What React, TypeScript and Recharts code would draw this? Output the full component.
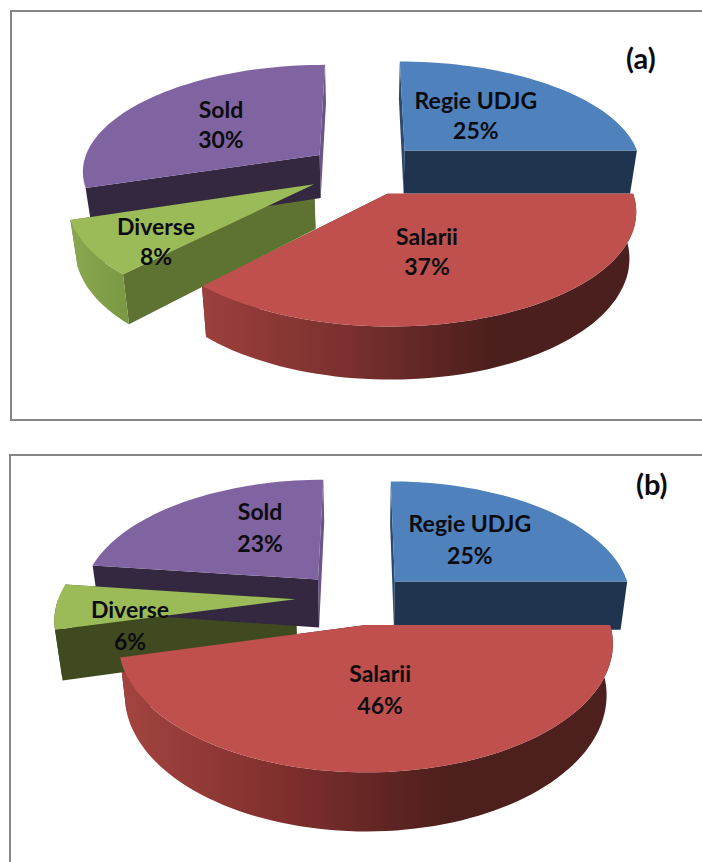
import { PieChart, Pie } from 'recharts';

const categories = ['Regie UDJG', 'Salarii', 'Diverse', 'Sold'];
const valuesA = [25, 37, 8, 30];
const valuesB = [25, 46, 6, 23];

const topColors: Record<string, string> = {
    'Regie UDJG': '#4f81bd',
    Salarii: '#c0504d',
    Diverse: '#9bbb59',
    Sold: '#8064a2',
};

const sideColors: Record<string, string> = {
    'Regie UDJG': '#2c4a70',
    Salarii: '#4d1f1e',
    Diverse: '#5e7232',
    Sold: '#6a5488',
};

// perspective of the fake 3D disc, slices and labels are in disc units (radius = 1)
interface View {
    id: string;
    k: number;
    p: number;
    depth: number;
    lineGap: number;
    explode: Record<string, number[]>;
    labelAt: Record<string, number[]>;
    cutFace: Record<string, string>;
    rim: Record<string, string[]>;
}

const viewA: View = {
    id: 'a',
    k: 0.447,
    p: 0.14,
    depth: 44,
    lineGap: 30,
    explode: {
        'Regie UDJG': [0.175, 0.177],
        Salarii: [0.095, -0.226],
        Diverse: [-0.205, -0.14],
        Sold: [-0.19, 0.135],
    },
    labelAt: {
        'Regie UDJG': [0.506, 0.546],
        Salarii: [0.239, -0.695],
        Diverse: [-0.798, -0.618],
        Sold: [-0.639, 0.45],
    },
    cutFace: { 'Regie UDJG': '#1f344f', Salarii: '#4d1f1e', Diverse: '#5e7232', Sold: '#33283f' },
    rim: {
        'Regie UDJG': [],
        Salarii: ['#9c403c', '#7a302e', '#4b1f1d', '#4b1f1d'],
        Diverse: ['#8aa84e', '#7a9743'],
        Sold: [],
    },
};

const viewB: View = {
    id: 'b',
    k: 0.5,
    p: 0.14,
    depth: 49,
    lineGap: 32,
    explode: {
        'Regie UDJG': [0.141, 0.141],
        Salarii: [0.015, -0.22],
        Diverse: [-0.28, -0.01],
        Sold: [-0.19, 0.16],
    },
    labelAt: {
        'Regie UDJG': [0.49, 0.545],
        Salarii: [0.069, -0.686],
        Diverse: [-0.95, -0.209],
        Sold: [-0.47, 0.664],
    },
    cutFace: { 'Regie UDJG': '#1f344f', Salarii: '#4d1f1e', Diverse: '#3f4a20', Sold: '#33283f' },
    rim: {
        'Regie UDJG': [],
        Salarii: ['#a4443f', '#7f2f2d', '#4d1f1d', '#4d1f1d'],
        Diverse: ['#3f4a20', '#3f4a20'],
        Sold: [],
    },
};

const RAD = Math.PI / 180;

function project(view: View, cx: number, cy: number, r: number, u: number, v: number, drop = 0) {
    const w = 1 + view.p * v;
    const shrink = 1 - (0.025 * drop) / view.depth;
    return [cx + ((r * u) / w) * shrink, cy + (-r * view.k * v + drop) / w];
}

function projector(view: View, cx: number, cy: number, r: number, name: string) {
    const [ou, ov] = view.explode[name];
    // f is the distance from the slice tip, in radii
    return (angle: number, f: number, drop = 0) =>
        project(view, cx, cy, r, ou + f * Math.cos(angle * RAD), ov + f * Math.sin(angle * RAD), drop);
}

const toPath = (pts: number[][]) =>
    'M' + pts.map(q => `${q[0].toFixed(1)},${q[1].toFixed(1)}`).join('L') + 'Z';

function arcAngles(from: number, to: number) {
    const out: number[] = [];
    const n = Math.max(2, Math.ceil(Math.abs(to - from) / 2));
    for (let i = 0; i <= n; i++) out.push(from + ((to - from) * i) / n);
    return out;
}

function WallShape(view: View) {
    return (props: any) => {
        const { cx, cy, outerRadius, startAngle, endAngle, payload } = props;
        const name = payload.name;
        const at = projector(view, cx, cy, outerRadius, name);
        const d = view.depth;
        const face = (angle: number) =>
            toPath([at(angle, 0), at(angle, 1), at(angle, 1, d), at(angle, 0, d)]);
        const faceFill = (angle: number) =>
            Math.sin(angle * RAD) > 0.95 ? sideColors[name] : view.cutFace[name];

        // far cut face first, the one nearer the viewer goes over it
        const faces = [startAngle, endAngle].sort((x, y) => Math.sin(y * RAD) - Math.sin(x * RAD));

        // only the front half of the rim can be seen
        const a0 = Math.min(startAngle, 0);
        const a1 = Math.max(endAngle, -180);
        const gid = `rim-${view.id}-${categories.indexOf(name)}`;
        const stops = view.rim[name];
        let rim: number[][] = [];
        if (a0 > a1 && stops.length > 0) {
            const angles = arcAngles(a0, a1);
            rim = angles.map(a => at(a, 1)).concat(angles.slice().reverse().map(a => at(a, 1, d)));
        }
        const xs = rim.map(q => q[0]);
        return (
            <g>
                <path d={face(faces[0])} fill={faceFill(faces[0])} />
                <path d={face(faces[1])} fill={faceFill(faces[1])} />
                {rim.length > 0 && (
                    <>
                        <linearGradient
                            id={gid}
                            gradientUnits="userSpaceOnUse"
                            x1={Math.min(...xs)}
                            x2={Math.max(...xs)}
                            y1={0}
                            y2={0}
                        >
                            {stops.map((c, i) => (
                                <stop key={i} offset={i / (stops.length - 1)} stopColor={c} />
                            ))}
                        </linearGradient>
                        <path d={toPath(rim)} fill={`url(#${gid})`} />
                    </>
                )}
            </g>
        );
    };
}

function TopShape(view: View) {
    return (props: any) => {
        const { cx, cy, outerRadius, startAngle, endAngle, payload } = props;
        const at = projector(view, cx, cy, outerRadius, payload.name);
        const pts = [at(startAngle, 0), ...arcAngles(startAngle, endAngle).map(a => at(a, 1))];
        return <path d={toPath(pts)} fill={topColors[payload.name]} />;
    };
}

function SliceLabel(view: View) {
    return (props: any) => {
        const { cx, cy, outerRadius, name, value } = props;
        const [u, v] = view.labelAt[name];
        const [x, y] = project(view, cx, cy, outerRadius, u, v);
        return (
            <text
                x={x}
                y={y}
                textAnchor="middle"
                fontFamily="Lato, sans-serif"
                fontWeight={700}
                fontSize={23}
                fill="#0c0c10"
            >
                <tspan x={x} dy={-6}>{name}</tspan>
                <tspan x={x} dy={view.lineGap}>{value}%</tspan>
            </text>
        );
    };
}

interface Pie3DProps {
    values: number[];
    view: View;
    top: number;
    height: number;
    cx: number;
    cy: number;
    radius: number;
}

function Pie3D({ values, view, top, height, cx, cy, radius }: Pie3DProps) {
    const data = categories.map((name, i) => ({ name, value: values[i] }));
    return (
        <div style={{ position: 'absolute', left: 0, top }}>
            <PieChart width={702} height={height} margin={{ top: 0, right: 0, bottom: 0, left: 0 }}>
                <Pie
                    data={data}
                    dataKey="value"
                    nameKey="name"
                    cx={cx}
                    cy={cy}
                    outerRadius={radius}
                    startAngle={90}
                    endAngle={-270}
                    stroke="none"
                    shape={WallShape(view)}
                    isAnimationActive={false}
                />
                <Pie
                    data={data}
                    dataKey="value"
                    nameKey="name"
                    cx={cx}
                    cy={cy}
                    outerRadius={radius}
                    startAngle={90}
                    endAngle={-270}
                    stroke="none"
                    shape={TopShape(view)}
                    label={SliceLabel(view)}
                    labelLine={false}
                    isAnimationActive={false}
                />
            </PieChart>
        </div>
    );
}

const frameStyle = { position: 'absolute', borderStyle: 'solid', borderColor: '#868686', borderWidth: 2, borderRightWidth: 0, background: '#fff', boxSizing: 'border-box' } as const;
const titleStyle = { position: 'absolute', fontFamily: 'Lato, sans-serif', fontWeight: 700, fontSize: 29, color: '#0c0c10', lineHeight: '30px' } as const;

export default function App() {
    return (
        <div style={{ position: 'absolute', left: 0, top: 0, width: 702, height: 862, overflow: 'hidden', background: '#fff' }}>
            <div style={{ ...frameStyle, left: 10, top: 10, width: 692, height: 411 }} />
            <div style={{ ...frameStyle, left: 9, top: 454, width: 693, height: 420 }} />
            <Pie3D values={valuesA} view={viewA} top={0} height={430} cx={364} cy={169} radius={238} />
            <Pie3D values={valuesB} view={viewB} top={440} height={422} cx={362} cy={158} radius={237} />
            <div style={{ ...titleStyle, left: 626, top: 43 }}>(a)</div>
            <div style={{ ...titleStyle, left: 636, top: 469 }}>(b)</div>
        </div>
    );
}
